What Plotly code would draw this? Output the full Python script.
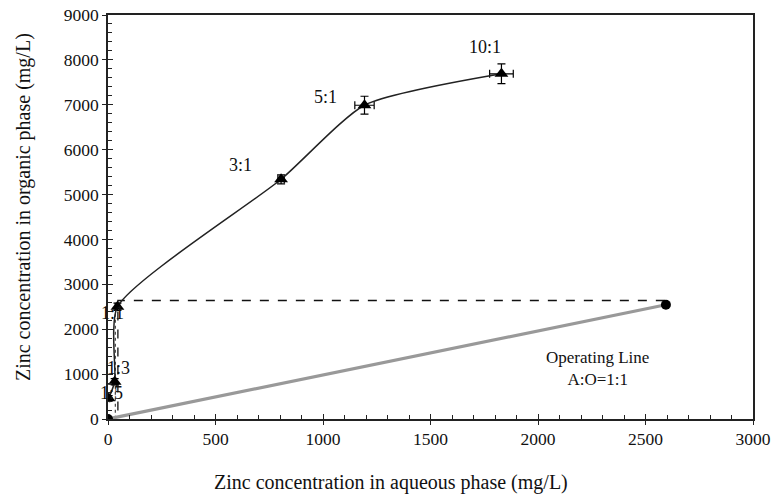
import plotly.graph_objects as go

# Equilibrium isotherm (A:O phase ratios)
ratio_labels = ["1:5", "1:3", "1:1", "3:1", "5:1", "10:1"]
aq_zinc = [3, 31, 44, 805, 1193, 1830]
org_zinc = [460, 830, 2500, 5340, 6990, 7690]
aq_err = [5, 8, 10, 15, 45, 55]
org_err = [60, 70, 80, 100, 200, 220]

# Label positions for the phase-ratio annotations
label_x = [16, 49, 20, 614, 1013, 1754]
label_y = [580, 1136, 2354, 5657, 7171, 8285]

# Operating line A:O = 1:1
op_x = [0, 2595]
op_y = [0, 2545]

# Stage construction (dashed)
step_x = [2590, 46, 46]
step_y = [2640, 2640, 0]
step2_x = [34, 34]
step2_y = [2480, 0]

X_RANGE = [0, 3000]
Y_RANGE = [0, 9000]
FONT = "Liberation Serif"
X_TITLE = "Zinc concentration in aqueous phase (mg/L)"
Y_TITLE = "Zinc concentration in organic phase (mg/L)"

fig = go.Figure()

fig.add_trace(go.Scatter(
    x=step_x, y=step_y, mode="lines",
    line=dict(color="#111111", width=1.3, dash="dash"), showlegend=False))
fig.add_trace(go.Scatter(
    x=step2_x, y=step2_y, mode="lines",
    line=dict(color="#333333", width=1.1, dash="dot"), showlegend=False))

fig.add_trace(go.Scatter(
    x=op_x, y=op_y, mode="lines+markers",
    line=dict(color="#999999", width=3.2),
    marker=dict(symbol="circle", size=10, color="black"),
    showlegend=False, xaxis="x2", yaxis="y2"))

fig.add_trace(go.Scatter(
    x=aq_zinc, y=org_zinc, mode="lines+markers",
    line=dict(color="#222222", width=1.5, shape="spline", smoothing=0.6),
    marker=dict(symbol="triangle-up", size=12, color="black"),
    error_y=dict(type="data", array=org_err, color="black", thickness=1.2, width=4),
    error_x=dict(type="data", array=aq_err, color="black", thickness=1.2, width=4),
    showlegend=False))

for lx, ly, t in zip(label_x, label_y, ratio_labels):
    fig.add_annotation(x=lx, y=ly, text=t, showarrow=False,
                       font=dict(family=FONT, size=18, color="#111111"))

fig.add_annotation(x=2276, y=1136, text="Operating Line<br>A:O=1:1", showarrow=False,
                   font=dict(family=FONT, size=17, color="#111111"))

# Axis titles placed as paper annotations
fig.add_annotation(xref="paper", yref="paper", x=0.439, y=-0.158, text=X_TITLE,
                   showarrow=False, xanchor="center", yanchor="middle",
                   font=dict(family=FONT, size=20, color="#111111"))
fig.add_annotation(xref="paper", yref="paper", x=-0.130, y=0.525, text=Y_TITLE,
                   showarrow=False, xanchor="center", yanchor="middle", textangle=-90,
                   font=dict(family=FONT, size=20, color="#111111"))

common = dict(showgrid=False, zeroline=False, tickcolor="#222222", tickwidth=1.2,
              automargin=False)

fig.update_layout(
    width=776, height=501,
    margin=dict(l=108, r=23, t=15, b=82),
    paper_bgcolor="white", plot_bgcolor="white",
    font=dict(family=FONT, size=18, color="#111111"),
    xaxis=dict(range=X_RANGE, tickmode="linear", tick0=0, dtick=500,
               ticks="inside", ticklen=5, mirror=True, showline=True,
               linecolor="#222222", linewidth=1.5, ticklabelstandoff=3,
               minor=dict(dtick=100, ticks="inside", ticklen=4, tickcolor="#222222"),
               tickfont=dict(family=FONT, size=17.5), **common),
    yaxis=dict(range=Y_RANGE, tickmode="linear", tick0=0, dtick=1000,
               ticks="inside", ticklen=5, mirror=True, showline=True,
               linecolor="#222222", linewidth=1.5, ticklabelstandoff=4,
               minor=dict(dtick=200, ticks="inside", ticklen=4, tickcolor="#222222"),
               tickfont=dict(family=FONT, size=17.5), **common),
    xaxis2=dict(range=X_RANGE, overlaying="x", anchor="y2", side="bottom",
                tickmode="linear", tick0=0, dtick=500, ticks="outside", ticklen=5,
                showticklabels=False, showline=False, **common),
    yaxis2=dict(range=Y_RANGE, overlaying="y", anchor="x2", side="left",
                tickmode="linear", tick0=0, dtick=1000, ticks="outside", ticklen=5,
                showticklabels=False, showline=False, **common),
)

fig.write_html("out.html")
